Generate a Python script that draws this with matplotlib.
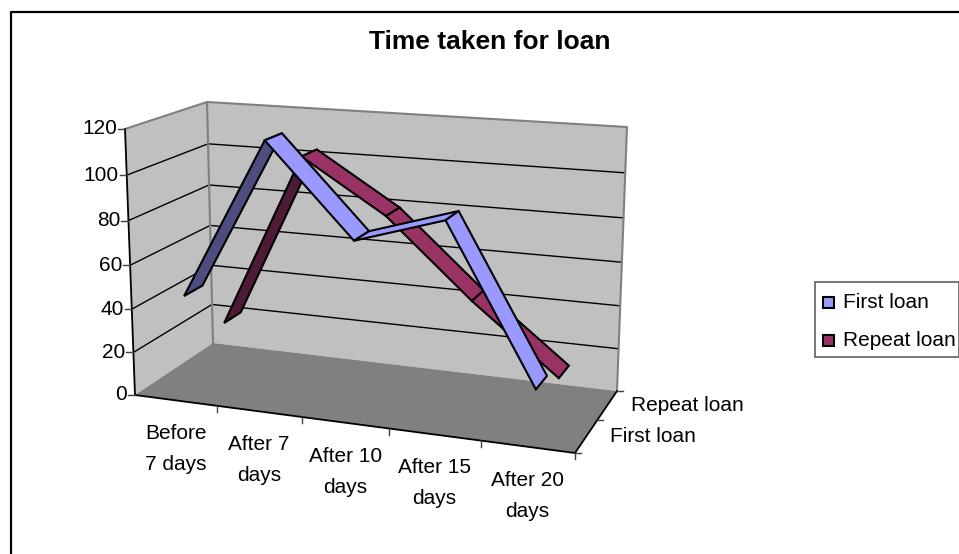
#!/usr/bin/env python3
"""
Excel style 3D line chart, drawn with a small projection onto a pixel-sized axes.
"""
import numpy as np
import matplotlib
matplotlib.use("Agg")
import matplotlib.pyplot as plt
from matplotlib.patches import Polygon, Rectangle

plt.rcParams["font.family"] = ["Liberation Sans", "DejaVu Sans"]

categories = ["Before\n7 days", "After 7\ndays", "After 10\ndays", "After 15\ndays", "After 20\ndays"]
series_names = ["First loan", "Repeat loan"]
first_loan = [45, 117, 77, 89, 21]
repeat_loan = [21, 103, 79, 44, 13]
value_ticks = [0, 20, 40, 60, 80, 100, 120]

W, H = 959, 554
FONT = 15

# box corners in pixels: floor and top, (x, depth) = (0,0) (1,0) (1,1) (0,1)
FLOOR = [(135, 395), (575, 453), (617, 391), (213, 343)]
TOP = [(125, 129), (587, 160), (627, 127), (207, 102)]


def homography(quad):
    src = [(0, 0), (1, 0), (1, 1), (0, 1)]
    A, b = [], []
    for (u, v), (x, y) in zip(src, quad):
        A.append([u, v, 1, 0, 0, 0, -u*x, -v*x])
        A.append([0, 0, 0, u, v, 1, -u*y, -v*y])
        b += [x, y]
    return np.append(np.linalg.solve(np.array(A, float), np.array(b, float)), 1).reshape(3, 3)


H_FLOOR = homography(FLOOR)
H_TOP = homography(TOP)


def project(x, d, value=0.0):
    # x and d in 0..1, value on the chart scale
    p = np.array([x, d, 1.0])
    a = H_FLOOR @ p
    b = H_TOP @ p
    z = value / value_ticks[-1]
    z = z / (z + 1.05*(1 - z))
    return (a[:2]/a[2])*(1 - z) + (b[:2]/b[2])*z


def poly(ax, pts, fc, ec="none", lw=0.0, z=1):
    ax.add_patch(Polygon(pts, closed=True, facecolor=fc, edgecolor=ec, linewidth=lw, zorder=z, joinstyle="miter"))


def signed_area(pts):
    x, y = np.array(pts).T
    return 0.5*np.sum(x*np.roll(y, -1) - np.roll(x, -1)*y)


def ribbon(ax, values, d0, d1, light, dark, z):
    n = len(values)
    xs = [(i + 0.5)/n for i in range(n)]
    for i in range(n - 1):
        pts = [project(xs[i], d0, values[i]), project(xs[i+1], d0, values[i+1]),
               project(xs[i+1], d1, values[i+1]), project(xs[i], d1, values[i])]
        # the ribbon shows its underside when the quad flips on screen
        fc = light if signed_area(pts) < 0 else dark
        poly(ax, pts, fc, "black", 1.5, z + i*0.01)


fig = plt.figure(figsize=(W/100, H/100), dpi=100)
ax = fig.add_axes([0, 0, 1, 1])
ax.set_xlim(0, W)
ax.set_ylim(H, 0)
ax.axis("off")

# chart frame, the right side runs off the picture
ax.plot([11, 11, W], [H, 12, 12], color="black", lw=1.6, zorder=0)

# walls and floor
poly(ax, [project(0, 0, 0), project(0, 1, 0), project(0, 1, 120), project(0, 0, 120)], "#c0c0c0")
poly(ax, [project(0, 1, 0), project(1, 1, 0), project(1, 1, 120), project(0, 1, 120)], "#c0c0c0")
poly(ax, [project(0, 0), project(1, 0), project(1, 1), project(0, 1)], "#808080", z=1.1)

for v in value_ticks[1:-1]:
    a, b, c = project(0, 0, v), project(0, 1, v), project(1, 1, v)
    ax.plot([a[0], b[0], c[0]], [a[1], b[1], c[1]], color="black", lw=1.0, zorder=1.2)

# grey wall edges
edge = [project(0, 0, 120), project(0, 1, 120), project(1, 1, 120), project(1, 1, 0)]
ax.plot(*np.array(edge).T, color="#808080", lw=1.5, zorder=1.3)
inner = [project(0, 1, 120), project(0, 1, 0)]
ax.plot(*np.array(inner).T, color="#808080", lw=1.5, zorder=1.3)

# axis lines
ax.plot(*np.array([project(0, 0, 120), project(0, 0, 0), project(1, 0, 0), project(1, 1, 0)]).T,
        color="black", lw=1.3, zorder=1.4)

for v in value_ticks:
    px, py = project(0, 0, v)
    ax.plot([px - 7, px], [py, py], color="#404040", lw=1.0, zorder=1.4)
    ax.text(px - 8, py, str(v), ha="right", va="center", fontsize=FONT, zorder=3)

n = len(categories)
for i, label in enumerate(categories):
    px, py = project((i + 1)/n, 0)
    ax.plot([px, px], [py, py + 6], color="#404040", lw=1.0, zorder=1.4)
    mx, my = project((i + 0.5)/n, 0)
    ax.text(mx, my + 49, label, ha="center", va="center", fontsize=FONT, linespacing=1.8, zorder=3)

for d in [0, 0.5, 1]:
    px, py = project(1, d)
    ax.plot([px, px + 6], [py, py], color="#404040", lw=1.0, zorder=1.4)

for j, name in enumerate(series_names):
    px, py = project(1, (j + 0.5)/2)
    ax.text(px + 24, py, name, ha="left", va="center", fontsize=FONT, zorder=3)

# series, back one first
ribbon(ax, repeat_loan, 0.64, 0.87, "#993366", "#4d1a38", 2)
ribbon(ax, first_loan, 0.14, 0.37, "#9999ff", "#4d4d80", 2.5)

# title
ax.text(490, 42, "Time taken for loan", ha="center", va="center", fontsize=19, fontweight="bold")

# legend
ax.add_patch(Rectangle((815, 282), W - 815, 75, facecolor="white", edgecolor="#606060", lw=1.2, zorder=2))
for name, color, y in zip(series_names, ["#9999ff", "#993366"], [302, 340]):
    ax.add_patch(Rectangle((823, y - 5), 11, 11, facecolor=color, edgecolor="black", lw=1.5, zorder=3))
    ax.text(843, y, name, ha="left", va="center", fontsize=FONT, zorder=3)

fig.savefig("out.png", dpi=100)
